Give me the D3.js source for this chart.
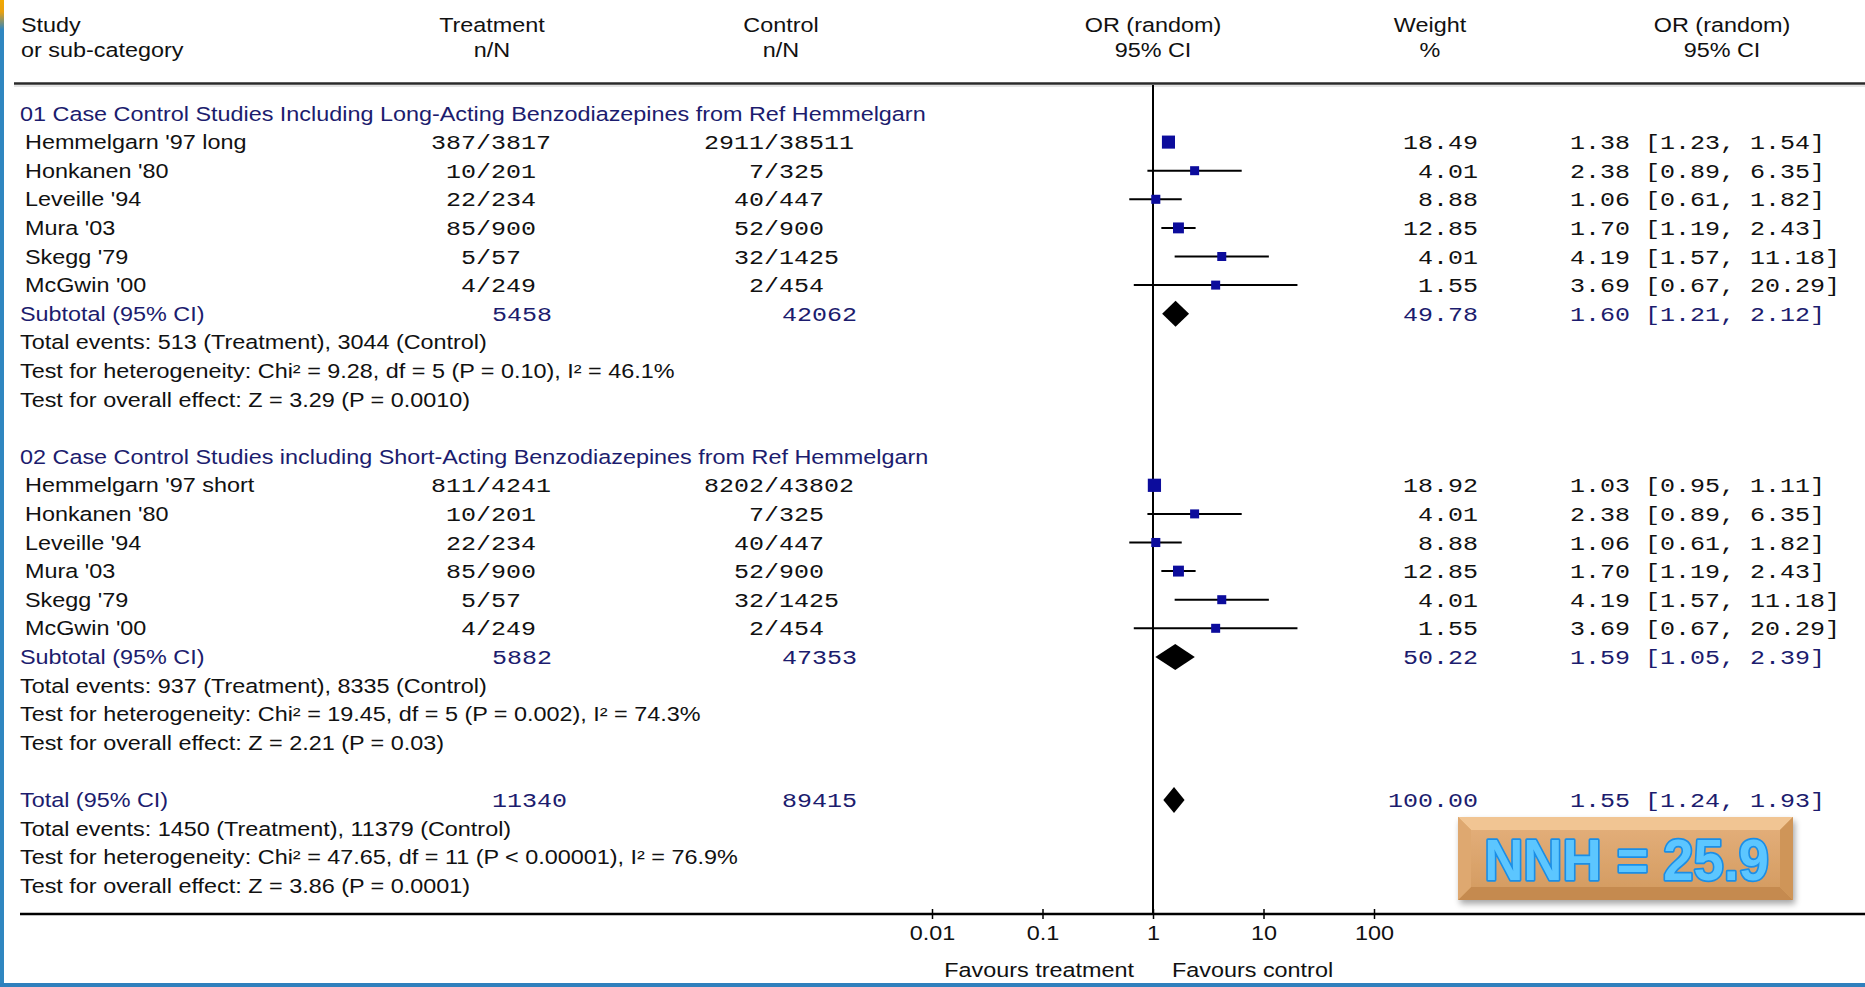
<!DOCTYPE html>
<html>
<head>
<meta charset="utf-8">
<script src="https://cdn.jsdelivr.net/npm/d3@7"></script>
<style>
  html, body { margin: 0; padding: 0; background: #fff; }
  svg { display: block; }
</style>
</head>
<body>
<svg id="chart" width="1865" height="987"></svg>
<script>
// ---- Data -------------------------------------------------------------
const groupTitles = [
  "01 Case Control Studies Including Long-Acting Benzodiazepines from Ref Hemmelgarn",
  "02 Case Control Studies including Short-Acting Benzodiazepines from Ref Hemmelgarn"
];

const group1Studies   = ["Hemmelgarn '97 long", "Honkanen '80", "Leveille '94", "Mura '03", "Skegg '79", "McGwin '00"];
const group1Treatment = ["387/3817", "10/201", "22/234", "85/900", "5/57", "4/249"];
const group1Control   = ["2911/38511", "7/325", "40/447", "52/900", "32/1425", "2/454"];
const group1Weight    = [18.49, 4.01, 8.88, 12.85, 4.01, 1.55];
const group1OR        = [1.38, 2.38, 1.06, 1.70, 4.19, 3.69];
const group1Lower     = [1.23, 0.89, 0.61, 1.19, 1.57, 0.67];
const group1Upper     = [1.54, 6.35, 1.82, 2.43, 11.18, 20.29];

const group2Studies   = ["Hemmelgarn '97 short", "Honkanen '80", "Leveille '94", "Mura '03", "Skegg '79", "McGwin '00"];
const group2Treatment = ["811/4241", "10/201", "22/234", "85/900", "5/57", "4/249"];
const group2Control   = ["8202/43802", "7/325", "40/447", "52/900", "32/1425", "2/454"];
const group2Weight    = [18.92, 4.01, 8.88, 12.85, 4.01, 1.55];
const group2OR        = [1.03, 2.38, 1.06, 1.70, 4.19, 3.69];
const group2Lower     = [0.95, 0.89, 0.61, 1.19, 1.57, 0.67];
const group2Upper     = [1.11, 6.35, 1.82, 2.43, 11.18, 20.29];

const subtotalTreatment = [5458, 5882];
const subtotalControl   = [42062, 47353];
const subtotalWeight    = [49.78, 50.22];
const subtotalOR        = [1.60, 1.59];
const subtotalLower     = [1.21, 1.05];
const subtotalUpper     = [2.12, 2.39];

const subtotalStats = [
  ["Total events: 513 (Treatment), 3044 (Control)",
   "Test for heterogeneity: Chi\u00B2 = 9.28, df = 5 (P = 0.10), I\u00B2 = 46.1%",
   "Test for overall effect: Z = 3.29 (P = 0.0010)"],
  ["Total events: 937 (Treatment), 8335 (Control)",
   "Test for heterogeneity: Chi\u00B2 = 19.45, df = 5 (P = 0.002), I\u00B2 = 74.3%",
   "Test for overall effect: Z = 2.21 (P = 0.03)"]
];

const totalTreatment = 11340;
const totalControl   = 89415;
const totalWeight    = 100.00;
const totalOR        = 1.55;
const totalLower     = 1.24;
const totalUpper     = 1.93;
const totalStats = [
  "Total events: 1450 (Treatment), 11379 (Control)",
  "Test for heterogeneity: Chi\u00B2 = 47.65, df = 11 (P < 0.00001), I\u00B2 = 76.9%",
  "Test for overall effect: Z = 3.86 (P = 0.0001)"
];

const axisTicks      = [0.01, 0.1, 1, 10, 100];
const axisTickLabels = ["0.01", "0.1", "1", "10", "100"];
const favourLabels   = ["Favours treatment", "Favours control"];
const nnhLabel       = "NNH = 25.9";

// ---- Layout ------------------------------------------------------------
const W = 1865, H = 987;
const SX_SANS = 1.2;             // horizontal stretch of the screen fonts
const SX_MONO = 1.25;
const SANS = "'Liberation Sans', Arial, sans-serif";
const MONO = "'Liberation Mono', 'Courier New', monospace";
const SANS_SIZE = 19.5, MONO_SIZE = 20;
const CHAR_W = 12 * SX_MONO;     // advance of one mono character
const NAVY = "#1c1c6e", INK = "#111";

const rowY = i => 113.5 + 28.6 * i;
const axisY = 914;

const colTreat = 491, colTotTreat = 492;
const colCtrl = 779, colTotCtrl = 782;
const colWeightRight = 1478;
const colCI = 1570;

const x = d3.scaleLog().domain([0.01, 100]).range([932, 1374]);
const boxSize = d3.scaleSqrt().domain([0, 20]).range([0, 13.6]);

const svg = d3.select("#chart");
const defs = svg.append("defs");

function label(g, str, px, cy, opt = {}) {
  const mono = !!opt.mono;
  return g.append("text")
    .attr("transform", `translate(${px},${cy + 7}) scale(${mono ? SX_MONO : SX_SANS},1)`)
    .attr("text-anchor", opt.anchor || "start")
    .attr("font-family", mono ? MONO : SANS)
    .attr("font-size", opt.size || (mono ? MONO_SIZE : SANS_SIZE))
    .attr("fill", opt.color || INK)
    .text(str);
}

// n/N entries are centred by whole characters inside a 10-character field
function centredField(g, str, centre, cy, color) {
  const F = 10;
  const left = centre + (Math.ceil((F - str.length) / 2) - F / 2) * CHAR_W;
  label(g, str, left, cy, { mono: true, color });
}

const ciText = (o, l, u) => `${o.toFixed(2)} [${l.toFixed(2)}, ${u.toFixed(2)}]`;

// ---- Frame ---------------------------------------------------------------
const edge = defs.append("linearGradient").attr("id", "edge").attr("x1", 0).attr("y1", 0).attr("x2", 0).attr("y2", 1);
edge.append("stop").attr("offset", "0").attr("stop-color", "#f2a900");
edge.append("stop").attr("offset", "0.012").attr("stop-color", "#e8a010");
edge.append("stop").attr("offset", "0.03").attr("stop-color", "#2f86c0");
edge.append("stop").attr("offset", "1").attr("stop-color", "#2f86c0");
svg.append("rect").attr("x", 0).attr("y", 0).attr("width", 4).attr("height", H).attr("fill", "url(#edge)");
svg.append("rect").attr("x", 0).attr("y", H - 4).attr("width", W).attr("height", 4).attr("fill", "#2f80bd");

// ---- Column headers ------------------------------------------------------
const head = svg.append("g");
const headers = [
  ["Study", "or sub-category", 21, "start"],
  ["Treatment", "n/N", 492, "middle"],
  ["Control", "n/N", 781, "middle"],
  ["OR (random)", "95% CI", 1153, "middle"],
  ["Weight", "%", 1430, "middle"],
  ["OR (random)", "95% CI", 1722, "middle"]
];
headers.forEach(h => {
  label(head, h[0], h[2], 25, { anchor: h[3] });
  label(head, h[1], h[2], 50, { anchor: h[3] });
});
svg.append("line").attr("x1", 14).attr("x2", W).attr("y1", 83.5).attr("y2", 83.5)
  .attr("stroke", "#2a2a2a").attr("stroke-width", 2.5);
svg.append("line").attr("x1", 14).attr("x2", W).attr("y1", 86).attr("y2", 86)
  .attr("stroke", "#c8c8c8").attr("stroke-width", 1);

// ---- Line of no effect ---------------------------------------------------
svg.append("line").attr("x1", x(1)).attr("x2", x(1)).attr("y1", 85).attr("y2", axisY)
  .attr("stroke", "#000").attr("stroke-width", 2);

// ---- Rows ---------------------------------------------------------------
const body = svg.append("g");
const marks = svg.append("g");

function diamond(cy, o, l, u) {
  const h = 13;
  marks.append("path")
    .attr("d", `M${x(l)},${cy} L${x(o)},${cy - h} L${x(u)},${cy} L${x(o)},${cy + h} Z`)
    .attr("fill", "#000");
}

const groups = [
  [group1Studies, group1Treatment, group1Control, group1Weight, group1OR, group1Lower, group1Upper],
  [group2Studies, group2Treatment, group2Control, group2Weight, group2OR, group2Lower, group2Upper]
];

groups.forEach((gData, g) => {
  const [names, treat, ctrl, wt, or, lo, hi] = gData;
  const base = g * 12;
  label(body, groupTitles[g], 20, rowY(base), { color: NAVY });

  names.forEach((name, i) => {
    const cy = rowY(base + 1 + i);
    label(body, name, 25, cy);
    centredField(body, treat[i], colTreat, cy, INK);
    centredField(body, ctrl[i], colCtrl, cy, INK);
    label(body, wt[i].toFixed(2), colWeightRight, cy, { mono: true, anchor: "end" });
    label(body, ciText(or[i], lo[i], hi[i]), colCI, cy, { mono: true });

    marks.append("line")
      .attr("x1", x(lo[i])).attr("x2", x(hi[i])).attr("y1", cy).attr("y2", cy)
      .attr("stroke", "#000").attr("stroke-width", 2);
    const s = Math.max(9, boxSize(wt[i]));
    marks.append("rect")
      .attr("x", x(or[i]) - s / 2).attr("y", cy - s / 2)
      .attr("width", s).attr("height", s)
      .attr("fill", "#0c0c9c");
  });

  const sy = rowY(base + 7);
  label(body, "Subtotal (95% CI)", 20, sy, { color: NAVY });
  label(body, String(subtotalTreatment[g]), colTotTreat, sy, { mono: true, color: NAVY });
  label(body, String(subtotalControl[g]), colTotCtrl, sy, { mono: true, color: NAVY });
  label(body, subtotalWeight[g].toFixed(2), colWeightRight, sy, { mono: true, anchor: "end", color: NAVY });
  label(body, ciText(subtotalOR[g], subtotalLower[g], subtotalUpper[g]), colCI, sy, { mono: true, color: NAVY });
  diamond(sy, subtotalOR[g], subtotalLower[g], subtotalUpper[g]);

  subtotalStats[g].forEach((t, k) => label(body, t, 20, rowY(base + 8 + k)));
});

// Overall total
const ty = rowY(24);
label(body, "Total (95% CI)", 20, ty, { color: NAVY });
label(body, String(totalTreatment), colTotTreat, ty, { mono: true, color: NAVY });
label(body, String(totalControl), colTotCtrl, ty, { mono: true, color: NAVY });
label(body, totalWeight.toFixed(2), colWeightRight, ty, { mono: true, anchor: "end", color: NAVY });
label(body, ciText(totalOR, totalLower, totalUpper), colCI, ty, { mono: true, color: NAVY });
diamond(ty, totalOR, totalLower, totalUpper);
totalStats.forEach((t, k) => label(body, t, 20, rowY(25 + k)));

// ---- Axis ---------------------------------------------------------------
svg.append("line").attr("x1", 20).attr("x2", W).attr("y1", axisY).attr("y2", axisY)
  .attr("stroke", "#000").attr("stroke-width", 2.5);

const axis = d3.axisBottom(x)
  .tickValues(axisTicks)
  .tickFormat((d, i) => axisTickLabels[i])
  .tickSizeInner(4).tickSizeOuter(0);
const ax = svg.append("g").attr("transform", `translate(0,${axisY})`).call(axis);
ax.select(".domain").remove();
ax.selectAll(".tick line").attr("y1", -5).attr("y2", 5).attr("stroke", "#000").attr("stroke-width", 1.5);
ax.selectAll(".tick text")
  .attr("y", 0).attr("dy", null)
  .attr("transform", `translate(0,${933 - axisY + 7}) scale(${SX_SANS},1)`)
  .attr("font-family", SANS).attr("font-size", SANS_SIZE).attr("fill", INK);

label(svg, favourLabels[0], 1134, 970, { anchor: "end" });
label(svg, favourLabels[1], 1172, 970);

// ---- NNH call-out ------------------------------------------------------
const bx = 1458, by = 817, bw = 335, bh = 83, bev = 13;
const shadow = defs.append("filter").attr("id", "shadow").attr("x", "-10%").attr("y", "-10%").attr("width", "130%").attr("height", "140%");
shadow.append("feGaussianBlur").attr("in", "SourceAlpha").attr("stdDeviation", 3);
shadow.append("feOffset").attr("dx", 2).attr("dy", 4).attr("result", "off");
shadow.append("feComponentTransfer").append("feFuncA").attr("type", "linear").attr("slope", 0.35);
const merge = shadow.append("feMerge");
merge.append("feMergeNode");
merge.append("feMergeNode").attr("in", "SourceGraphic");

const face = defs.append("linearGradient").attr("id", "face").attr("x1", 0).attr("y1", 0).attr("x2", 0).attr("y2", 1);
face.append("stop").attr("offset", "0").attr("stop-color", "#e2ad78");
face.append("stop").attr("offset", "1").attr("stop-color", "#d59d63");

const nnh = svg.append("g").attr("filter", "url(#shadow)");
nnh.append("rect").attr("x", bx).attr("y", by).attr("width", bw).attr("height", bh).attr("fill", "#d9a267");
const bevels = [
  [[bx, by], [bx + bw, by], [bx + bw - bev, by + bev], [bx + bev, by + bev], "#f1c593"],
  [[bx, by + bh], [bx + bw, by + bh], [bx + bw - bev, by + bh - bev], [bx + bev, by + bh - bev], "#c58a50"],
  [[bx, by], [bx + bev, by + bev], [bx + bev, by + bh - bev], [bx, by + bh], "#dea86f"],
  [[bx + bw, by], [bx + bw - bev, by + bev], [bx + bw - bev, by + bh - bev], [bx + bw, by + bh], "#cf9558"]
];
bevels.forEach(p => nnh.append("path")
  .attr("d", "M" + p.slice(0, 4).map(q => q.join(",")).join("L") + "Z").attr("fill", p[4]));
nnh.append("rect").attr("x", bx + bev).attr("y", by + bev).attr("width", bw - 2 * bev).attr("height", bh - 2 * bev)
  .attr("fill", "url(#face)");
svg.append("text")
  .attr("transform", `translate(${bx + bw / 2 + 1},${by + 63}) scale(0.935,1)`)
  .attr("text-anchor", "middle")
  .attr("font-family", SANS).attr("font-weight", "bold").attr("font-size", 58)
  .attr("fill", "#5cc6ff").attr("stroke", "#1b8ee6").attr("stroke-width", 3.5)
  .attr("paint-order", "stroke").attr("stroke-linejoin", "round")
  .text(nnhLabel);
</script>
</body>
</html>
